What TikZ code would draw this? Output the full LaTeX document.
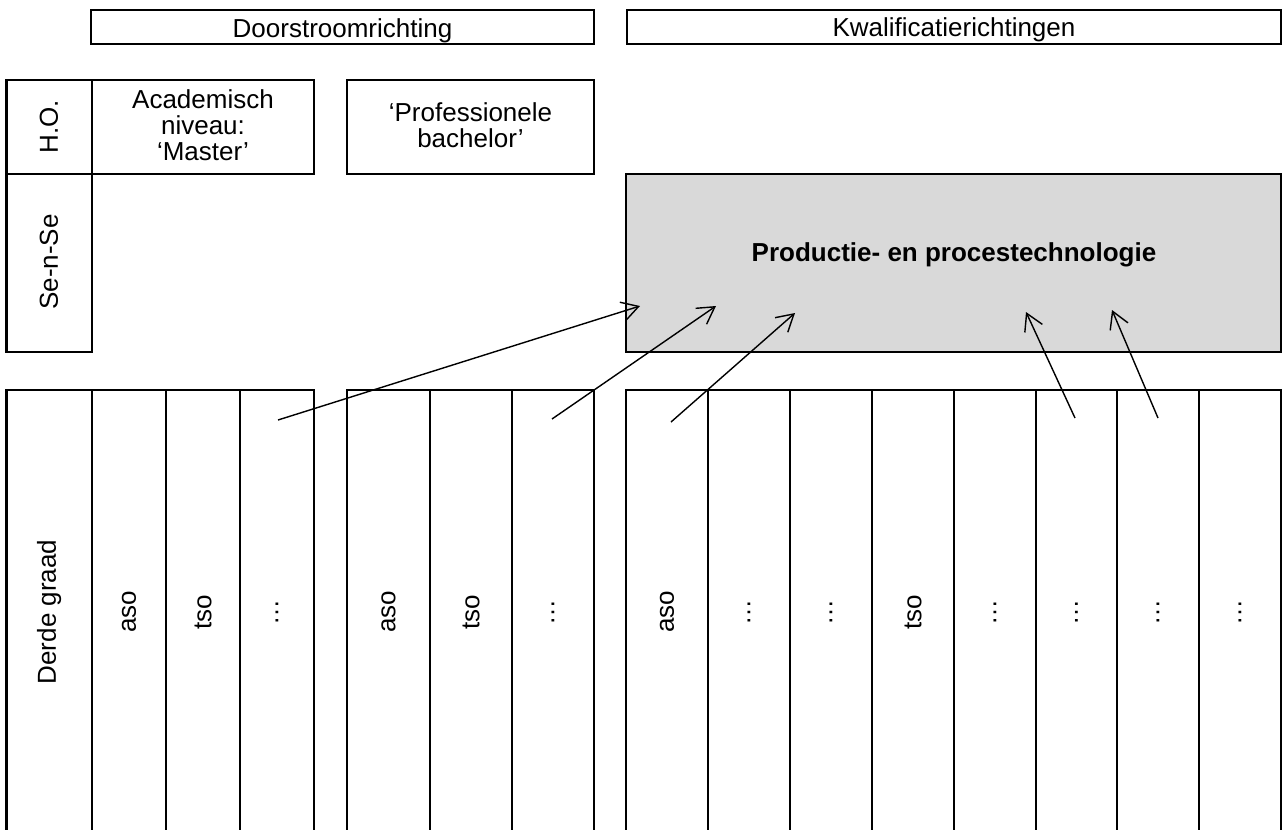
\documentclass[tikz,border=0pt]{standalone}
\usepackage{fontspec}
\setmainfont{Liberation Sans}
\usetikzlibrary{arrows.meta}

\definecolor{grijs}{RGB}{217,217,217}

\tikzset{
  vak/.style={draw, line width=1.3pt},
  lbl/.style={font=\fontsize{14.8}{14.8}\selectfont, align=center, inner sep=0pt},
  vlbl/.style={lbl, rotate=90},
  pijl/.style={-{Straight Barb[length=9.5pt,width=11pt]}, line width=0.8pt},
}

\begin{document}
\begin{tikzpicture}[x=0.02cm, y=-0.02cm]
  \useasboundingbox (0,0) rectangle (1282,829);

  % kopjes
  \draw[vak] (91,10) rectangle (594,44);
  \draw[vak] (627,10) rectangle (1281,44);
  \node[lbl, anchor=base] (door) at (342.5,37) {Doorstroomrichting};
  \node[lbl, anchor=base] (kwal) at (954,36) {Kwalificatierichtingen};

  % hoger onderwijs
  \draw[vak] (6.5,80) rectangle (92,174);
  \draw[vak] (92,80) rectangle (314,174);
  \draw[vak] (347,80) rectangle (594,174);
  \node[vlbl] (ho) at (49,127) {H.O.};
  \node[lbl] (master) at (203,125) {Academisch\\niveau:\\‘Master’};
  \node[lbl] (bachelor) at (470.5,125) {‘Professionele\\bachelor’};

  % se-n-se
  \draw[vak] (6.5,174) rectangle (92,352);
  \node[vlbl] (sense) at (49,262) {Se-n-Se};
  \draw[vak, fill=grijs] (626,174) rectangle (1281,352);
  \node[lbl, font=\fontsize{14.8}{14.8}\selectfont\bfseries] (ppt) at (954,255)
    {Productie- en procestechnologie};

  % derde graad
  \foreach \xa/\xb/\t [count=\i] in {6.5/92/Derde graad, 92/166/aso, 166/240/tso,
      240/314/…, 347/430/aso, 430/512/tso, 512/594/…, 626/708/aso, 708/790/…,
      790/872/…, 872/954/tso, 954/1036/…, 1036/1117/…, 1117/1199/…, 1199/1281/…} {
    \draw[vak] (\xa,390) rectangle (\xb,835);
    \node[vlbl] (kol\i) at ({(\xa+\xb)/2},612) {\t};
  }

  % pijlen
  \foreach \sx/\sy/\tx/\ty [count=\i] in {278/420/640/306, 552/419/716/306,
      671/422/795/313, 1075/418/1026/312, 1158/418/1112/310} {
    \coordinate (van\i) at (\sx,\sy);
    \coordinate (naar\i) at (\tx,\ty);
    \draw[pijl] (van\i) -- (naar\i);
  }
\end{tikzpicture}
\end{document}
